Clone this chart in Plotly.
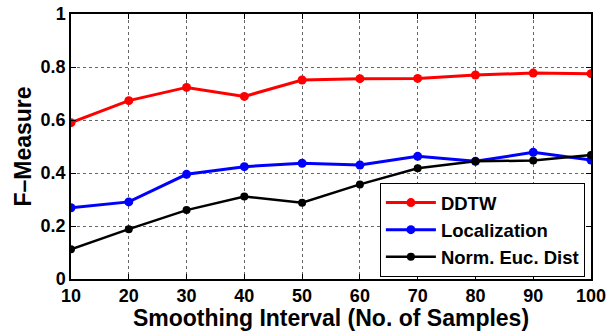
import plotly.graph_objects as go

x = [10, 20, 30, 40, 50, 60, 70, 80, 90, 100]
ddtw = [0.590, 0.673, 0.723, 0.689, 0.751, 0.756, 0.757, 0.770, 0.777, 0.775]
localization = [0.269, 0.291, 0.395, 0.424, 0.437, 0.430, 0.463, 0.444, 0.478, 0.449]
norm_euc = [0.112, 0.188, 0.260, 0.311, 0.288, 0.357, 0.418, 0.444, 0.447, 0.468]

series = [("DDTW", ddtw, "#ff0000", 9, 3),
          ("Localization", localization, "#0000ff", 9, 3),
          ("Norm. Euc. Dist", norm_euc, "#000000", 8, 2.5)]

FAM = "Liberation Sans, Arial, sans-serif"

fig = go.Figure()
for name, ys, col, ms, lw in series:
    fig.add_trace(go.Scatter(x=x, y=ys, name=name, mode="lines+markers",
                             line=dict(color=col, width=lw),
                             marker=dict(color=col, size=ms)))

axis_common = dict(showline=True, linecolor="black", linewidth=1.5, mirror="allticks",
                   ticks="inside", ticklen=5, tickcolor="black",
                   showgrid=True, gridcolor="#666666", griddash="dot", gridwidth=1,
                   zeroline=False, automargin=False,
                   tickfont=dict(size=18, family=FAM, color="black", weight="bold"))

fig.update_layout(
    width=615, height=331,
    margin=dict(l=71, r=24, t=14, b=52),
    plot_bgcolor="white", paper_bgcolor="white",
    font=dict(family=FAM, color="black"),
    showlegend=True,
    legend=dict(x=0.594, y=0.362, xanchor="left", yanchor="top",
                bordercolor="black", borderwidth=1, bgcolor="white",
                font=dict(size=18.5, weight="bold", family=FAM),
                tracegroupgap=0, itemwidth=50),
    xaxis=dict(range=[10, 100], tickvals=x, **axis_common,
               title=dict(text="Smoothing Interval (No. of Samples)", standoff=0,
                          font=dict(size=23, weight="bold", family=FAM))),
    yaxis=dict(range=[0, 1], tickvals=[0, 0.2, 0.4, 0.6, 0.8, 1.0],
               ticktext=["0", "0.2", "0.4", "0.6", "0.8", "1"], **axis_common,
               title=dict(text="F\u2013Measure", standoff=3,
                          font=dict(size=23, weight="bold", family=FAM))),
)

fig.write_html("out.html")
